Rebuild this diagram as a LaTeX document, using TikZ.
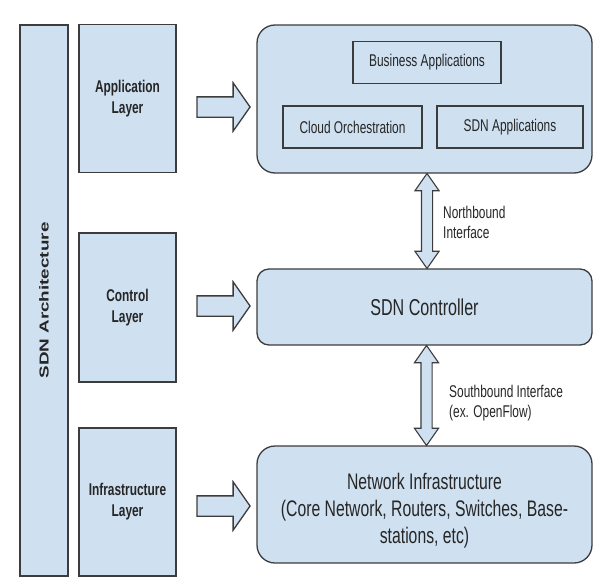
\documentclass[tikz,border=0pt]{standalone}
\usepackage{fontspec}
\setmainfont{Liberation Sans}[FakeStretch=0.7]
\newfontfamily\archfont{Liberation Sans}[FakeStretch=1.45]
\usetikzlibrary{shapes.arrows,calc}
\definecolor{layerblue}{HTML}{CFE0F1}
\definecolor{edgegray}{HTML}{3C3C3C}

\begin{document}
\begin{tikzpicture}[x=1pt,y=-1pt,
  box/.style={draw=edgegray,fill=layerblue,line width=1.3pt,inner sep=0pt,text=black!85},
  layer/.style={box,minimum width=97,align=center,font=\fontsize{17}{21}\selectfont\bfseries},
  plane/.style={box,rounded corners=16,minimum width=335,align=center},
  appbox/.style={box,line width=1.1pt,minimum height=42,font=\fontsize{17}{19}\selectfont},
  rightarrow/.style={draw=edgegray,fill=layerblue,line width=1.3pt,single arrow,inner sep=9.5,
    minimum height=53,minimum width=47,single arrow head extend=14,single arrow tip angle=110},
  updown/.style={draw=edgegray,fill=layerblue,line width=1.1pt,double arrow,inner sep=5,
    minimum width=23,double arrow head extend=6.5,double arrow tip angle=70,rotate=90},
  note/.style={anchor=west,align=left,inner sep=0pt,text=black!85,font=\fontsize{17}{20.5}\selectfont}]
\useasboundingbox (0,0) rectangle (593,578);

% Architecture bar
\node[box,minimum width=551,minimum height=48,rotate=90] (archbar) at (44,300.5)
  {\archfont\bfseries\fontsize{13}{15}\selectfont SDN Architecture};

% Layers
\node[layer,minimum height=148] (applayer) at (127.5,98.5) {Application\\Layer};
\node[layer,minimum height=149] (ctrllayer) at (127.5,307.5) {Control\\Layer};
\node[layer,minimum height=148] (infralayer) at (127.5,502) {Infrastructure\\Layer};

% Planes
\node[plane,minimum height=148,rounded corners=18] (appplane) at (424.5,99) {};
\node[plane,minimum height=76,rounded corners=12,font=\fontsize{23}{26}\selectfont] (controller) at (424.5,307) {SDN Controller};
\node[plane,minimum height=117,rounded corners=18] (network) at (424.5,504.5) {};
\node[align=center,text=black!85,font=\fontsize{22.5}{27}\selectfont] (nettext) at (424.5,511)
  {Network Infrastructure\\(Core Network, Routers, Switches, Base-\\stations, etc)};

% Applications
\node[appbox,minimum width=148] (business) at (427,62.5) {Business Applications};
\node[appbox,minimum width=139] (cloud) at (352.5,127) {Cloud Orchestration};
\node[appbox,minimum width=146] (sdnapps) at (510,127) {SDN Applications};

% Draw arrows
\node[rightarrow] (apparrow) at (220,107) {};
\node[rightarrow] (ctrlarrow) at (220,306) {};
\node[rightarrow] (infraarrow) at (220,506) {};
\node[updown,minimum height=95] (northarrow) at ($(appplane.south)!0.5!(controller.north)+(2.5,0)$) {};
\node[updown,minimum height=100] (southarrow) at ($(controller.south)!0.5!(network.north)+(2,0)$) {};

% Labels
\node[note] (nblabel) at (443,222.5) {Northbound\\Interface};
\node[note] (sblabel) at (449,403) {Southbound Interface\\(ex. OpenFlow)};
\end{tikzpicture}
\end{document}
